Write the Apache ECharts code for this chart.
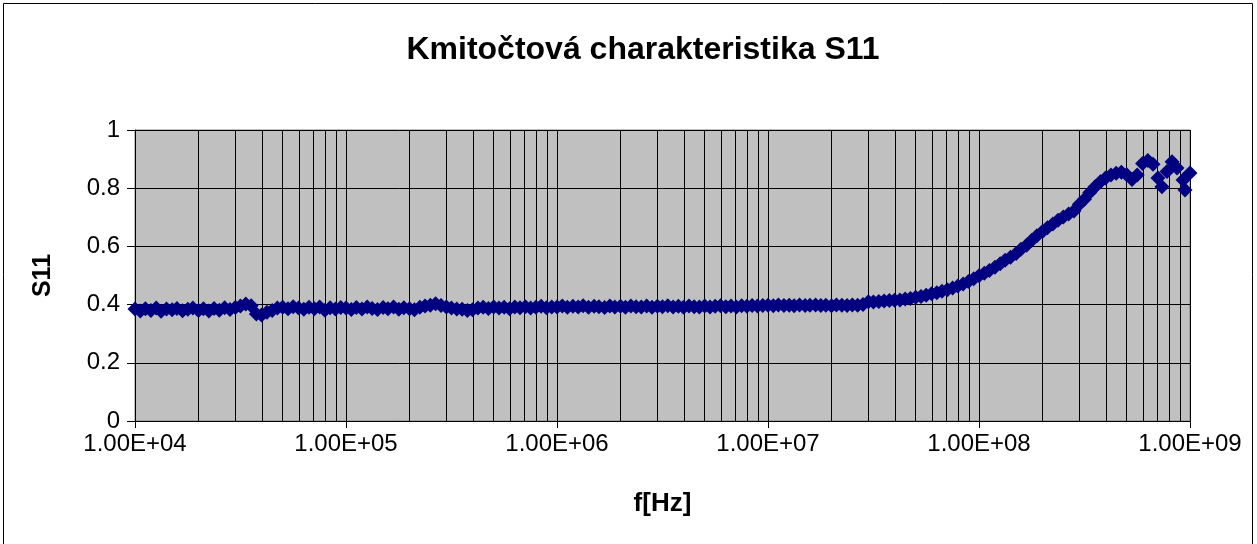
<!DOCTYPE html>
<html>
<head>
<meta charset="utf-8">
<script src="https://cdn.jsdelivr.net/npm/echarts@6/dist/echarts.min.js"></script>
<style>
html,body{margin:0;padding:0;background:#fff;}
#chart{width:1257px;height:544px;}
</style>
</head>
<body>
<div id="chart"></div>
<script>
// Frequencies [Hz] (log sweep)
const freqHz = [
1.00e4,1.06e4,1.12e4,1.19e4,1.26e4,1.33e4,1.41e4,1.50e4,1.58e4,1.68e4,1.78e4,1.88e4,2.00e4,2.11e4,2.24e4,2.37e4,2.51e4,2.66e4,2.82e4,2.99e4,3.16e4,3.35e4,3.55e4,3.76e4,3.98e4,4.22e4,4.47e4,4.73e4,5.01e4,5.31e4,5.62e4,5.96e4,6.31e4,6.68e4,7.08e4,7.50e4,7.94e4,8.41e4,8.91e4,9.44e4,
1.00e5,1.06e5,1.12e5,1.19e5,1.26e5,1.33e5,1.41e5,1.50e5,1.58e5,1.68e5,1.78e5,1.88e5,2.00e5,2.11e5,2.24e5,2.37e5,2.51e5,2.66e5,2.82e5,2.99e5,3.16e5,3.35e5,3.55e5,3.76e5,3.98e5,4.22e5,4.47e5,4.73e5,5.01e5,5.31e5,5.62e5,5.96e5,6.31e5,6.68e5,7.08e5,7.50e5,7.94e5,8.41e5,8.91e5,9.44e5,
1.00e6,1.06e6,1.12e6,1.19e6,1.26e6,1.33e6,1.41e6,1.50e6,1.58e6,1.68e6,1.78e6,1.88e6,2.00e6,2.11e6,2.24e6,2.37e6,2.51e6,2.66e6,2.82e6,2.99e6,3.16e6,3.35e6,3.55e6,3.76e6,3.98e6,4.22e6,4.47e6,4.73e6,5.01e6,5.31e6,5.62e6,5.96e6,6.31e6,6.68e6,7.08e6,7.50e6,7.94e6,8.41e6,8.91e6,9.44e6,
1.00e7,1.06e7,1.12e7,1.19e7,1.26e7,1.33e7,1.41e7,1.50e7,1.58e7,1.68e7,1.78e7,1.88e7,2.00e7,2.11e7,2.24e7,2.37e7,2.51e7,2.66e7,2.82e7,2.99e7,3.16e7,3.35e7,3.55e7,3.76e7,3.98e7,4.22e7,4.47e7,4.73e7,5.01e7,5.31e7,5.62e7,5.96e7,6.31e7,6.68e7,7.08e7,7.50e7,7.94e7,8.41e7,8.91e7,9.44e7,
1.00e8,1.06e8,1.12e8,1.19e8,1.26e8,1.33e8,1.41e8,1.50e8,1.58e8,1.68e8,1.78e8,1.88e8,2.00e8,2.11e8,2.24e8,2.37e8,2.51e8,2.66e8,2.82e8,2.99e8,3.16e8,3.35e8,3.55e8,3.76e8,3.98e8,4.22e8,4.47e8,4.73e8,5.01e8,5.31e8,5.62e8,5.96e8,6.31e8,6.68e8,
7.05e8,7.36e8,7.78e8,8.22e8,8.68e8,9.27e8,9.47e8,1.00e9
];
// |S11| values
const s11 = [
0.385,0.378,0.386,0.380,0.388,0.377,0.385,0.382,0.387,0.379,0.384,0.388,0.380,0.386,0.378,0.387,0.381,0.389,0.383,0.390,0.395,0.402,0.396,0.368,0.364,0.374,0.380,0.388,0.391,0.386,0.393,0.388,0.384,0.391,0.386,0.392,0.381,0.389,0.385,0.390,
0.388,0.383,0.390,0.385,0.392,0.387,0.383,0.390,0.386,0.392,0.384,0.389,0.386,0.382,0.391,0.395,0.398,0.403,0.397,0.392,0.388,0.385,0.384,0.380,0.382,0.388,0.391,0.387,0.392,0.388,0.391,0.386,0.392,0.389,0.393,0.388,0.391,0.394,0.389,0.392,
0.392,0.395,0.391,0.394,0.392,0.396,0.391,0.394,0.393,0.390,0.395,0.392,0.394,0.391,0.395,0.393,0.392,0.395,0.391,0.394,0.393,0.396,0.392,0.394,0.391,0.395,0.393,0.392,0.395,0.392,0.394,0.396,0.393,0.395,0.392,0.396,0.394,0.397,0.395,0.397,
0.398,0.396,0.399,0.397,0.398,0.396,0.399,0.397,0.398,0.399,0.397,0.398,0.396,0.399,0.398,0.397,0.399,0.398,0.400,0.410,0.409,0.411,0.412,0.414,0.415,0.416,0.419,0.421,0.425,0.428,0.432,0.437,0.441,0.446,0.451,0.457,0.464,0.471,0.479,0.489,
0.499,0.508,0.517,0.528,0.540,0.552,0.563,0.576,0.590,0.604,0.621,0.637,0.651,0.664,0.677,0.690,0.701,0.711,0.722,0.745,0.762,0.785,0.805,0.822,0.835,0.845,0.851,0.855,0.846,0.830,0.845,0.885,0.895,0.882,
0.835,0.805,0.857,0.891,0.869,0.828,0.794,0.852
];
// Axis ticks
const yTicks = [0, 0.2, 0.4, 0.6, 0.8, 1];
const decades = [1e4, 1e5, 1e6, 1e7, 1e8, 1e9];
const minorMult = [2, 3, 4, 5, 6, 7, 8, 9];

const titleText = 'Kmitočtová charakteristika S11';
const xName = 'f[Hz]';
const yName = 'S11';

const FONT = 'Arial, "Liberation Sans", sans-serif';

function fmtExp(v) {
  const e = Math.round(Math.log10(v));
  const m = v / Math.pow(10, e);
  const es = (e < 0 ? '-' : '+') + String(Math.abs(e)).padStart(2, '0');
  return m.toFixed(2) + 'E' + es;
}

const minorLines = [];
for (let i = 0; i < decades.length - 1; i++) {
  for (const m of minorMult) minorLines.push({ xAxis: decades[i] * m });
}

const chart = echarts.init(document.getElementById('chart'), null, { renderer: 'canvas' });
chart.setOption({
  animation: false,
  backgroundColor: '#ffffff',
  title: {
    text: titleText,
    left: 638,
    textAlign: 'center',
    top: 29,
    textStyle: { fontFamily: FONT, fontWeight: 'bold', fontSize: 32, color: '#000' }
  },
  graphic: [{
    type: 'rect',
    shape: { x: 3.5, y: 3.5, width: 1249, height: 600 },
    style: { fill: 'none', stroke: '#000', lineWidth: 1 },
    silent: true
  }],
  grid: {
    left: 135, right: 67, top: 130, bottom: 123,
    show: true, backgroundColor: '#C0C0C0', borderColor: '#808080', borderWidth: 1
  },
  xAxis: {
    type: 'log', logBase: 10, min: 1e4, max: 1e9,
    name: xName, nameLocation: 'middle', nameGap: 70,
    nameTextStyle: { fontFamily: FONT, fontWeight: 'bold', fontSize: 26, color: '#000' },
    axisLine: { show: true, onZero: false, lineStyle: { color: '#000', width: 1 } },
    axisTick: { show: true, length: 7, lineStyle: { color: '#000' } },
    axisLabel: { fontFamily: FONT, fontSize: 24, color: '#000', margin: 11, formatter: fmtExp },
    splitLine: { show: true, lineStyle: { color: '#000', width: 1 } }
  },
  yAxis: {
    type: 'value', min: 0, max: 1, interval: 0.2,
    name: yName, nameLocation: 'middle', nameGap: 79, nameRotate: 90,
    nameTextStyle: { fontFamily: FONT, fontWeight: 'bold', fontSize: 25, color: '#000' },
    axisLine: { show: true, lineStyle: { color: '#000', width: 1 } },
    axisTick: { show: true, length: 8, lineStyle: { color: '#000' } },
    axisLabel: { fontFamily: FONT, fontSize: 24, color: '#000', margin: 15,
      formatter: v => String(Math.round(v * 10) / 10) },
    splitLine: { show: true, lineStyle: { color: '#000', width: 1 } }
  },
  series: [
    {
      type: 'line', data: [], z: 1, silent: true,
      markLine: {
        silent: true, symbol: ['none', 'none'], animation: false,
        label: { show: false },
        lineStyle: { color: '#000', width: 1, type: 'solid' },
        data: minorLines
      }
    },
    {
      type: 'scatter', z: 5,
      symbol: 'diamond', symbolSize: 15,
      itemStyle: { color: '#000080', opacity: 1 },
      data: freqHz.map((f, i) => [f, s11[i]])
    }
  ]
});
</script>
</body>
</html>
